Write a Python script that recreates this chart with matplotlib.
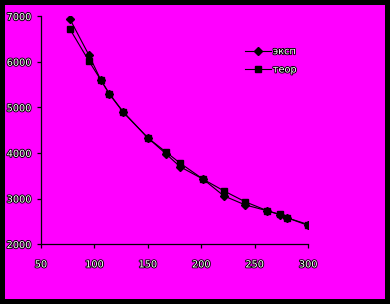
import matplotlib
matplotlib.use("Agg")
import matplotlib.pyplot as plt
import matplotlib.patheffects as pe

# data
x = [77, 95, 106, 114, 127, 150, 167, 180, 202, 221, 241, 262, 274, 280, 300]
exp_vals = [6940, 6140, 5600, 5290, 4890, 4330, 3980, 3700, 3420, 3060, 2860, 2730, 2640, 2580, 2410]
theor_vals = [6720, 6010, 5600, 5300, 4900, 4330, 4020, 3780, 3420, 3170, 2930, 2730, 2650, 2580, 2430]
x_ticks = [50, 100, 150, 200, 250, 300]
y_ticks = [2000, 3000, 4000, 5000, 6000, 7000]

bg = "#ff00ff"
fx = [pe.withStroke(linewidth=1.3, foreground="black")]

fig = plt.figure(figsize=(3.9, 3.04), dpi=100, facecolor=bg,
                 edgecolor="black", linewidth=5.8)
ax = fig.add_axes([0.105, 0.197, 0.685, 0.750])
ax.set_facecolor(bg)

ax.plot(x, exp_vals, color="black", lw=0.8, marker="D", ms=3.8, label="эксп")
ax.plot(x, theor_vals, color="black", lw=0.8, marker="s", ms=4.2, label="теор")

ax.set_xlim(50, 300)
ax.set_ylim(2000, 7000)
ax.set_xticks(x_ticks)
ax.set_yticks(y_ticks)
for s in ["top", "right"]:
    ax.spines[s].set_visible(False)
for s in ["left", "bottom"]:
    ax.spines[s].set_linewidth(0.9)

ax.tick_params(axis="x", direction="out", length=3, width=0.9, pad=8, labelsize=7)
ax.tick_params(axis="y", direction="out", length=3, width=0.9, pad=4, labelsize=7)
for lab in ax.get_xticklabels() + ax.get_yticklabels():
    lab.set_color("white")
    lab.set_path_effects(fx)

leg = ax.legend(loc="upper left", bbox_to_anchor=(0.748, 0.885), frameon=False,
                fontsize=7, handlelength=2.7, labelspacing=0.85, borderaxespad=0,
                handletextpad=0.2)
for t in leg.get_texts():
    t.set_color("white")
    t.set_path_effects(fx)

fig.savefig("out.png", dpi=100, facecolor=bg)
